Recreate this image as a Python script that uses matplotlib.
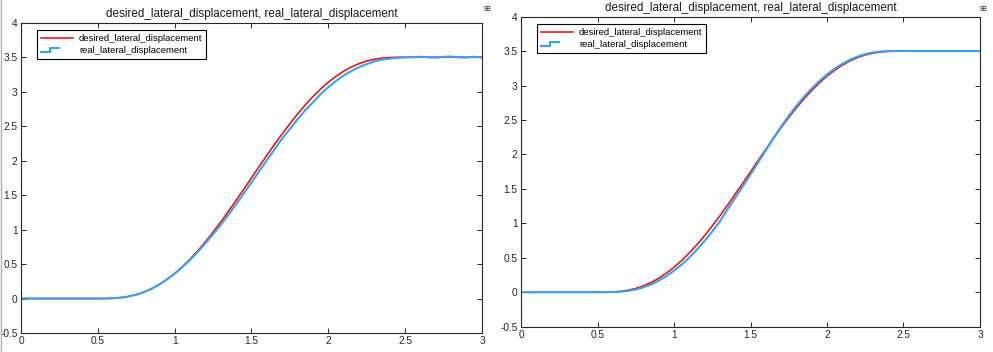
import numpy as np
import matplotlib
matplotlib.use("Agg")
import matplotlib.pyplot as plt
from matplotlib.lines import Line2D
from matplotlib.legend_handler import HandlerLine2D
from matplotlib.ticker import FormatStrFormatter, MultipleLocator

plt.rcParams['font.family'] = ['Liberation Sans', 'DejaVu Sans']

# time axis, 0..3 s every 0.05 s
time = np.round(np.arange(61) * 0.05, 2)

# desired lateral displacement (same in both runs)
desired = [0, 0, 0, 0, 0, 0, 0, 0, 0, 0, 0,
           0.0005, 0.004, 0.013, 0.030, 0.056, 0.093, 0.142, 0.203, 0.278, 0.362,
           0.461, 0.571, 0.692, 0.823, 0.963, 1.111, 1.265, 1.424, 1.586, 1.750,
           1.914, 2.076, 2.235, 2.389, 2.537, 2.677, 2.808, 2.929, 3.039, 3.138,
           3.222, 3.297, 3.358, 3.407, 3.444, 3.470, 3.487, 3.496, 3.4995, 3.5,
           3.5, 3.5, 3.5, 3.5, 3.5, 3.5, 3.5, 3.5, 3.5, 3.5]

# real lateral displacement, left run
real_left = [0, 0, 0, 0, 0, 0, 0, 0, 0, 0, 0,
             0.0005, 0.004, 0.013, 0.030, 0.056, 0.093, 0.142, 0.203, 0.278, 0.360,
             0.455, 0.560, 0.675, 0.800, 0.932, 1.070, 1.215, 1.368, 1.525, 1.685,
             1.845, 2.005, 2.165, 2.320, 2.460, 2.600, 2.730, 2.845, 2.965, 3.065,
             3.155, 3.235, 3.300, 3.355, 3.400, 3.440, 3.465, 3.480, 3.490, 3.497,
             3.500, 3.506, 3.497, 3.493, 3.505, 3.509, 3.497, 3.494, 3.506, 3.494]

# real lateral displacement, right run
real_right = [0, 0, 0, 0, 0, 0, 0, 0, 0, 0, 0,
              0.0003, 0.002, 0.008, 0.020, 0.040, 0.072, 0.113, 0.168, 0.235, 0.312,
              0.402, 0.505, 0.620, 0.745, 0.882, 1.030, 1.205, 1.372, 1.540, 1.710,
              1.885, 2.060, 2.238, 2.405, 2.560, 2.705, 2.838, 2.958, 3.065, 3.162,
              3.245, 3.316, 3.375, 3.421, 3.456, 3.480, 3.494, 3.500, 3.502, 3.502,
              3.501, 3.500, 3.500, 3.500, 3.500, 3.500, 3.500, 3.500, 3.500, 3.500]

title = "desired_lateral_displacement, real_lateral_displacement"
labels = ["desired_lateral_displacement", "real_lateral_displacement"]

RED = "#ff0000"
BLUE = "#35a2f4"
AX_COLOR = "#262626"


class StepHandler(HandlerLine2D):
    # legend glyph drawn as a small step, like the scope legend
    def create_artists(self, legend, orig_handle, xdescent, ydescent,
                       width, height, fontsize, trans):
        x0 = -xdescent
        yc = (height - ydescent) / 2
        xm = x0 + 0.28 * width
        xe = x0 + 0.58 * width
        h = 0.32 * height
        line = Line2D([x0, xm, xm, xe], [yc - h, yc - h, yc + h, yc + h])
        self.update_prop(line, orig_handle, legend)
        line.set_transform(trans)
        return [line]


def draw_panel(ax, real):
    l1, = ax.plot(time, desired, color=RED, lw=1.1)
    l2, = ax.plot(time, real, color=BLUE, lw=1.5)
    ax.set_xlim(0, 3)
    ax.set_ylim(-0.5, 4)
    ax.xaxis.set_major_locator(MultipleLocator(0.5))
    ax.yaxis.set_major_locator(MultipleLocator(0.5))
    ax.xaxis.set_major_formatter(FormatStrFormatter('%g'))
    ax.yaxis.set_major_formatter(FormatStrFormatter('%g'))
    ax.tick_params(direction='in', top=True, right=True, length=3.5, width=0.7,
                   labelsize=7.3, colors=AX_COLOR, pad=2.5)
    for sp in ax.spines.values():
        sp.set_color(AX_COLOR)
        sp.set_linewidth(0.8)
    ax.set_title(title, fontsize=8.4, color="#1a1a1a", pad=4)
    leg = ax.legend([l1, l2], labels, loc='upper left',
                    bbox_to_anchor=(0.035, 0.975), borderaxespad=0,
                    fontsize=6.8, handlelength=3.4, handletextpad=0.65,
                    labelspacing=0.32, borderpad=0.38, fancybox=False,
                    framealpha=1, edgecolor='black',
                    handler_map={l2: StepHandler()})
    leg.get_frame().set_linewidth(0.8)


fig = plt.figure(figsize=(9.93, 3.52), dpi=100)
ax1 = fig.add_axes([0.0211, 0.054, 0.4643, 0.8815])
ax2 = fig.add_axes([0.5247, 0.0719, 0.4622, 0.8807])
draw_panel(ax1, real_left)
draw_panel(ax2, real_right)

# little undock icons and the window edge seen in the screenshot
fig.text(0.490, 0.975, "\u229e", fontsize=6, color="#333333", ha='center', va='center',
         family=['DejaVu Sans'])
fig.text(0.990, 0.977, "\u229e", fontsize=6, color="#333333", ha='center', va='center',
         family=['DejaVu Sans'])
fig.add_artist(Line2D([0.0015, 0.0015], [0, 1], color="#b0b0b0", lw=1,
                      transform=fig.transFigure))

fig.savefig("out.png", dpi=100, facecolor='white')
